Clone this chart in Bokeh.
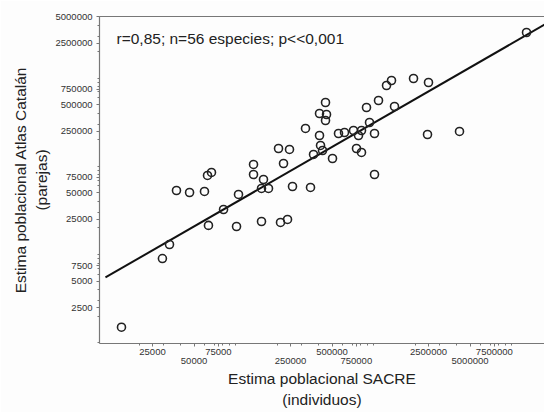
import numpy as np
from bokeh.plotting import figure
from bokeh.models import LogAxis, FixedTicker, Label, Title, Range1d, ColumnDataSource, PrintfTickFormatter
from bokeh.embed import file_html
from bokeh.resources import INLINE

# SACRE estimate (individuals) vs Atlas Catalán estimate (pairs)
sacre = [14900, 29500, 33200, 63600, 37300, 46400, 59500, 62600, 66900, 81800,
         101600, 105000, 134900, 134900, 159300, 154100, 173200, 154100, 211600, 237900,
         222500, 204700, 245900, 258500, 349100, 321100, 405700, 412600, 426600, 367100,
         503900, 448400, 405700, 456000, 448400, 556900, 615700, 715200, 817500, 777700,
         934300, 1015500, 751900, 817500, 1015500, 888600, 1085700, 1418000, 1241000, 1348600,
         1947000, 2500000, 2459000, 4194000, 12830000]
atlas = [1500, 9000, 13000, 21400, 53200, 50500, 51900, 78800, 85200, 32400,
         20800, 48000, 105000, 80800, 70900, 56100, 56100, 23700, 23100, 25000,
         107700, 159300, 155300, 59100, 57600, 268700, 223800, 172400, 151200, 136300,
         122700, 529600, 397400, 387200, 331100, 235800, 242000, 255000, 255000, 223800,
         314200, 235800, 159300, 143600, 80800, 464800, 557900, 477000, 825400, 940600,
         990800, 892700, 229700, 248500, 3293000]

# log10(atlas) = slope * log10(sacre) + intercept
slope = 0.901
intercept = 0.085
line_x = [11400, 17320000]

x_ticks_row1 = [25000, 75000, 500000, 2500000, 7500000]
x_ticks_row2 = [50000, 250000, 750000, 5000000]
y_ticks = [2500, 5000, 7500, 25000, 50000, 75000, 250000, 500000, 750000, 2500000, 5000000]

annotation = "r=0,85; n=56 especies; p<<0,001"
x_title = ["Estima poblacional SACRE", "(individuos)"]
y_title = ["Estima poblacional Atlas Catalán", "(parejas)"]

minor = [k * 10 ** e for e in range(2, 8) for k in range(1, 10)]

p = figure(width=544, height=412, x_axis_type="log", y_axis_type="log",
           x_range=Range1d(10325, 17320000), y_range=Range1d(980, 5000000),
           output_backend="svg", toolbar_location=None,
           x_axis_location=None, y_axis_location=None,
           min_border_left=99, min_border_right=0, min_border_top=16, min_border_bottom=69)
p.outline_line_color = None
p.background_fill_color = "#fdfdfd"
p.border_fill_color = "#fdfdfd"
p.grid.visible = False

AX = "#777777"
LBL = "#333333"
FONT = "Liberation Sans"

def style_axis(ax, size="9.5px"):
    ax.axis_line_color = AX
    ax.axis_line_width = 1.2
    ax.major_tick_line_color = AX
    ax.minor_tick_line_color = AX
    ax.major_tick_in = 0
    ax.major_tick_out = 3
    ax.minor_tick_in = 0
    ax.minor_tick_out = 2
    ax.major_label_text_font = FONT
    ax.major_label_text_font_size = size
    ax.major_label_text_color = LBL
    ax.formatter = PrintfTickFormatter(format="%d")

# left axis
yaxis = LogAxis(ticker=FixedTicker(ticks=y_ticks, minor_ticks=minor))
style_axis(yaxis)
yaxis.major_label_standoff = 4
p.add_layout(yaxis, "left")

# bottom axis (row 1 labels + all ticks)
xaxis1 = LogAxis(ticker=FixedTicker(ticks=sorted(x_ticks_row1 + x_ticks_row2), minor_ticks=minor))
style_axis(xaxis1)
xaxis1.major_label_standoff = 2
xaxis1.major_label_overrides = {v: "" for v in x_ticks_row2}
p.add_layout(xaxis1, "below")

# bottom axis row 2 (labels only)
xaxis2 = LogAxis(ticker=FixedTicker(ticks=x_ticks_row2, minor_ticks=[]))
style_axis(xaxis2)
xaxis2.axis_line_color = None
xaxis2.major_tick_line_color = None
xaxis2.minor_tick_line_color = None
xaxis2.major_tick_out = 0
xaxis2.minor_tick_out = 0
xaxis2.major_label_standoff = 0
p.add_layout(xaxis2, "below")

# top frame line
top = LogAxis(ticker=FixedTicker(ticks=[], minor_ticks=[]))
top.axis_line_color = AX
top.axis_line_width = 1.2
top.major_tick_out = 0
top.minor_tick_out = 0
top.major_label_text_font_size = "0px"
top.major_label_standoff = 0
p.add_layout(top, "above")

p.add_layout(Title(text=x_title[0], align="center", text_font=FONT, text_font_size="15.5px",
                   text_font_style="normal", text_color="#222222", standoff=3), "below")
p.add_layout(Title(text=x_title[1], align="center", text_font=FONT, text_font_size="15.5px",
                   text_font_style="normal", text_color="#222222", standoff=0), "below")
p.add_layout(Title(text=y_title[1], align="center", text_font=FONT, text_font_size="15.5px",
                   text_font_style="normal", text_color="#222222", standoff=5), "left")
p.add_layout(Title(text=y_title[0], align="center", text_font=FONT, text_font_size="15.5px",
                   text_font_style="normal", text_color="#222222", standoff=0), "left")

# regression line
lx = np.array(line_x, dtype=float)
ly = 10 ** (intercept + slope * np.log10(lx))
p.line(lx, ly, line_color="#111111", line_width=2)

src = ColumnDataSource(data=dict(x=sacre, y=atlas))
p.scatter("x", "y", source=src, size=8, marker="circle", fill_color=None,
          line_color="#222222", line_width=1.6)

p.add_layout(Label(x=13710, y=2816000, text=annotation, text_font=FONT,
                   text_font_size="15.5px", text_color="#222222", text_baseline="middle"))

open("out.html", "w").write(file_html(p, INLINE))
